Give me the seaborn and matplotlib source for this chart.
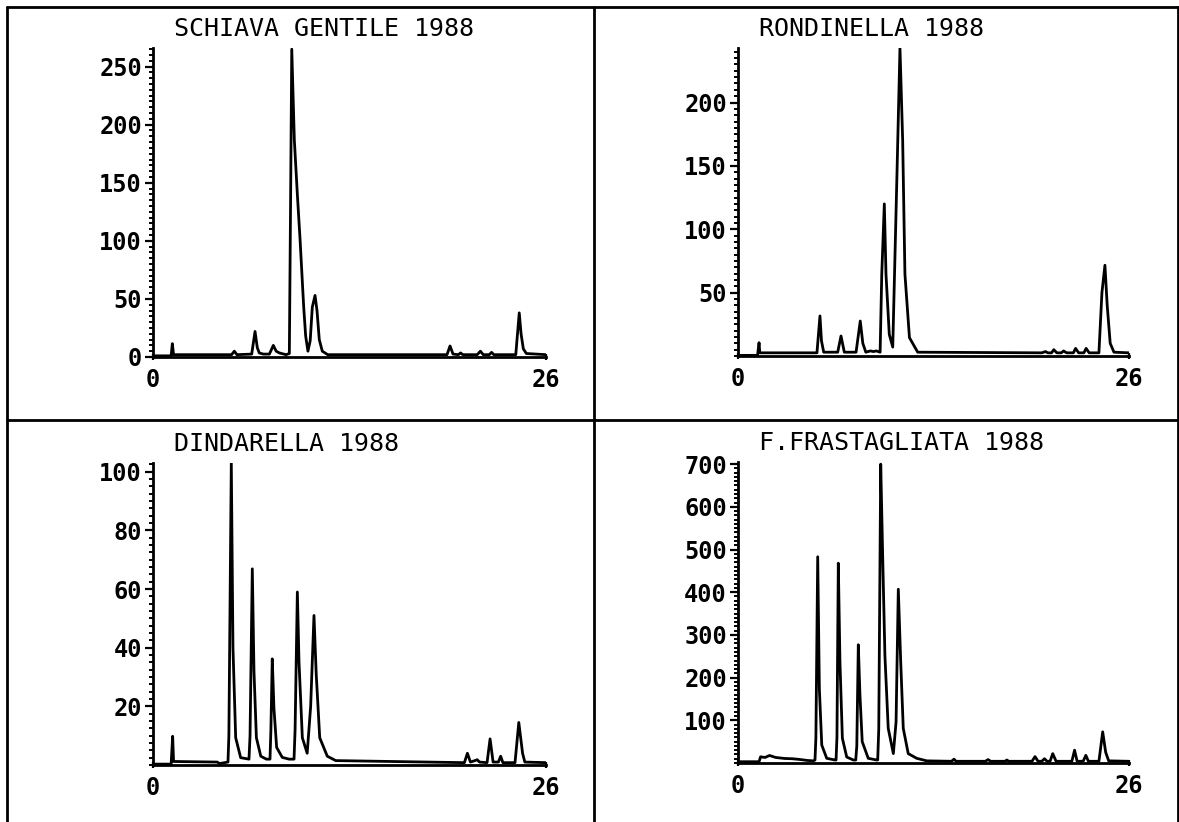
import matplotlib
matplotlib.use("Agg")
import matplotlib.pyplot as plt
import seaborn as sns
from matplotlib.lines import Line2D
from matplotlib.ticker import MultipleLocator

# chromatogram traces: retention time (0-26) and signal
schiava_t = [0, 1.2, 1.28, 1.36, 5.2, 5.38, 5.55, 6.53, 6.75, 6.9, 7.03, 7.3, 7.7, 7.96, 8.15, 8.36,
             8.8, 9.02, 9.1, 9.18, 9.35, 9.55, 9.73, 9.97, 10.1, 10.25, 10.4, 10.54, 10.72, 10.85, 11.0,
             11.2, 11.56, 19.45, 19.65, 19.85, 20.2, 20.35, 20.5, 21.45, 21.66, 21.85, 22.25, 22.4, 22.55,
             24.0, 24.23, 24.35, 24.5, 24.7, 26]
schiava_y = [1, 1, 11.5, 2, 2, 5, 2, 2.5, 22, 8, 3.5, 2.5, 2.5, 10, 5, 3.5,
             2, 3, 130, 265, 187, 140, 101, 43, 18, 5, 14, 43, 53, 40, 15,
             5, 2, 2, 9.5, 2.5, 2, 3.5, 2, 2, 5, 2, 2, 4, 2,
             2, 38, 20, 7, 3, 2]

rondinella_t = [0, 1.3, 1.4, 1.45, 5.25, 5.45, 5.55, 5.7, 6.63, 6.85, 7.07, 7.85, 8.13, 8.3, 8.5,
                8.8, 9.0, 9.2, 9.45, 9.56, 9.73, 9.84, 10.06, 10.29, 10.57, 10.77, 10.95, 11.1, 11.4,
                11.95, 20.2, 20.45, 20.6, 20.85, 21.0, 21.2, 21.5, 21.65, 21.85, 22.3, 22.45, 22.65,
                23.0, 23.15, 23.35, 24.0, 24.2, 24.4, 24.55, 24.75, 25.0, 26]
rondinella_y = [0.5, 0.5, 10.5, 2.5, 2.5, 31.6, 12, 3, 3, 15.8, 3, 3, 27.6, 10, 3,
                4, 3.5, 4, 3, 64.7, 120, 64.7, 17, 7, 143, 243, 170, 64.7, 14.5,
                3, 2.5, 3.5, 2.5, 2.5, 5, 2.5, 2.5, 4, 2.5, 2.5, 6, 2.5,
                2.5, 6, 2.5, 2.5, 50, 71.6, 40, 10, 3, 2.5]

dindarella_t = [0, 1.2, 1.3, 1.36, 4.25, 4.4, 4.96, 5.02, 5.18, 5.29, 5.47, 5.8, 6.35, 6.42, 6.57, 6.68,
                6.84, 7.13, 7.5, 7.74, 7.8, 7.89, 8.0, 8.18, 8.55, 9.0, 9.33, 9.4, 9.55, 9.66, 9.88,
                10.2, 10.43, 10.65, 10.8, 11.03, 11.53, 12.09, 20.6, 20.8, 21.0, 21.3, 21.45, 21.6,
                22.1, 22.3, 22.5, 22.85, 23.0, 23.15, 23.95, 24.2, 24.45, 24.6, 26]
dindarella_y = [0.3, 0.3, 9.8, 1.2, 1.0, 0.5, 1.0, 10, 103, 40, 9.3, 2.5, 2, 10, 66.9, 32,
                9.3, 3, 2, 2, 12, 36.2, 19.5, 6, 2.6, 2, 2, 12, 59, 35, 9.3,
                4, 20, 51, 30.8, 9.3, 3, 1.5, 0.8, 4, 1, 1.5, 1.8, 1,
                0.8, 8.9, 1, 1, 3, 0.8, 0.8, 14.5, 4, 1, 0.8]

frastagliata_t = [0, 1.4, 1.5, 1.8, 2.1, 2.5, 3.1, 3.6, 4.1, 4.6, 5.0, 5.12, 5.18, 5.3, 5.41, 5.57, 5.9,
                  6.45, 6.52, 6.58, 6.67, 6.78, 6.94, 7.23, 7.67, 7.83, 7.9, 8.0, 8.11, 8.26, 8.66,
                  9.22, 9.29, 9.36, 9.49, 9.62, 9.77, 9.99, 10.33, 10.51, 10.66, 10.82, 10.99, 11.32,
                  11.88, 12.55, 14.2, 14.36, 14.5, 16.45, 16.63, 16.8, 17.75, 17.88, 18.0, 19.55,
                  19.75, 19.95, 20.2, 20.38, 20.55, 20.75, 20.93, 21.15, 22.2, 22.38, 22.55, 22.95,
                  23.13, 23.3, 24.0, 24.25, 24.45, 24.65, 26]
frastagliata_y = [3, 3, 14.5, 13, 17.6, 13, 10.6, 10, 8.3, 6, 5, 7, 60, 483, 174, 42, 11,
                  7, 7, 60, 468, 236, 58, 14, 7, 7, 40, 277, 158, 50, 11,
                  7, 7, 80, 700, 485, 251, 81, 22, 96, 407, 236, 81, 22,
                  11, 5, 4, 9, 4, 4, 8, 4, 4, 7, 4, 4,
                  15, 4, 4, 10, 4, 4, 22, 4, 4, 30, 4, 4,
                  18, 4, 4, 73, 25, 5, 4]

titles = ["SCHIAVA GENTILE 1988", "RONDINELLA 1988", "DINDARELLA 1988", "F.FRASTAGLIATA 1988"]
traces = [(schiava_t, schiava_y), (rondinella_t, rondinella_y),
          (dindarella_t, dindarella_y), (frastagliata_t, frastagliata_y)]
yticks = [[0, 50, 100, 150, 200, 250], [50, 100, 150, 200],
          [20, 40, 60, 80, 100], [100, 200, 300, 400, 500, 600, 700]]
ytops = [266, 243, 103, 705]
yminor = [5, 5, 2.5, 10]

W, H = 1179, 822
# axes boxes in pixels: left, right, top, bottom
boxes = [(153, 546, 48, 357), (738, 1129, 48, 356),
         (153, 546, 463, 765), (738, 1129, 462, 763)]

sns.set_theme(style="ticks", rc={"xtick.color": "black", "ytick.color": "black",
                                 "text.color": "black", "axes.edgecolor": "black"})
plt.rcParams["font.family"] = ["DejaVu Sans Mono", "DejaVu Sans"]

fig = plt.figure(figsize=(W / 100, H / 100), dpi=100)

for i in range(4):
    l, r, t, b = boxes[i]
    ax = fig.add_axes([l / W, 1 - b / H, (r - l) / W, (b - t) / H])
    x, y = traces[i]
    sns.lineplot(x=x, y=y, ax=ax, color="black", linewidth=2.0, sort=False, estimator=None)
    ax.set_xlim(0, 26)
    ax.set_ylim(0, ytops[i])
    ax.set_xticks([0, 26])
    ax.set_xticklabels(["0", "26"])
    ax.set_yticks(yticks[i])
    ax.set_yticklabels([str(v) for v in yticks[i]])
    ax.yaxis.set_minor_locator(MultipleLocator(yminor[i]))
    ax.tick_params(axis="y", which="major", length=6, width=1.6, pad=2, labelsize=17,
                   direction="out", colors="black")
    ax.tick_params(axis="y", which="minor", length=3, width=1.4, direction="out", colors="black")
    ax.tick_params(axis="x", which="major", length=4, width=1.6, pad=6, labelsize=17,
                   direction="inout", colors="black")
    for lab in ax.get_xticklabels() + ax.get_yticklabels():
        lab.set_fontweight("bold")
        lab.set_color("black")
    for s in ["top", "right"]:
        ax.spines[s].set_visible(False)
    for s in ["left", "bottom"]:
        ax.spines[s].set_linewidth(2.0)
        ax.spines[s].set_color("black")
    ax.set_xlabel("")
    ax.set_ylabel("")
    ax.patch.set_alpha(0)
    ax.annotate(titles[i], xy=(0, 1), xycoords="axes fraction", xytext=(15, 14),
                textcoords="offset points", ha="left", va="center", fontsize=18, color="black")

# outer frame and panel dividers
frame = [((7, 7), (7, 822)), ((1178, 1178), (7, 822)), ((7, 1178), (7, 7)),
         ((594, 594), (7, 822)), ((7, 1178), (420, 420))]
for xs, ys in frame:
    fig.add_artist(Line2D([v / W for v in xs], [1 - v / H for v in ys],
                          transform=fig.transFigure, color="black", linewidth=2.0))

fig.savefig("out.png", dpi=100, facecolor="white")
